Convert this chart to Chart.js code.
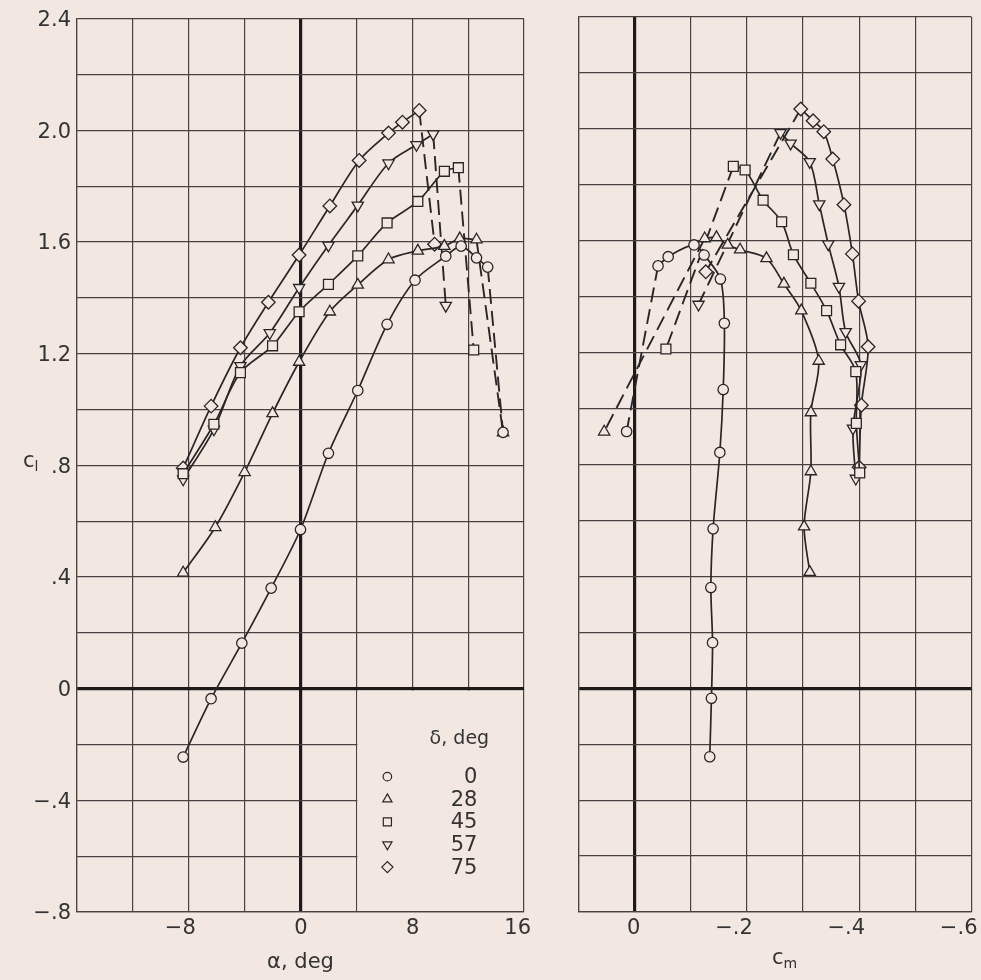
<!DOCTYPE html>
<html><head><meta charset="utf-8">
<script src="https://cdn.jsdelivr.net/npm/chart.js@4.4.0/dist/chart.umd.min.js"></script>
<style>
html,body{margin:0;padding:0;background:#f3e7e2;overflow:hidden;width:981px;height:980px;}
#wrap{position:relative;width:981px;height:980px;overflow:hidden;}
#left{position:absolute;left:0;top:0;width:560px;height:980px;}
#right{position:absolute;left:560px;top:0;width:440px;height:980px;}
.lab{position:absolute;font-family:"DejaVu Sans";font-size:21px;color:#333;line-height:1;}
.lab sub{font-size:14px;vertical-align:-4px;}
</style></head><body>
<div id="wrap">
<div id="left"><canvas id="c1"></canvas></div>
<div id="right"><canvas id="c2"></canvas></div>
<div class="lab" style="left:23px;top:450px">c<sub>l</sub></div>
<div class="lab" style="left:772px;top:947px">c<sub>m</sub></div>
</div>
<script>
// ---- data ----
const deltaLabels = ['0', '28', '45', '57', '75'];

// δ = 0 deg
const alpha0 = [-8.4, -6.4, -4.2, -2.1, 0, 2.0, 4.1, 6.2, 8.2, 10.4, 11.5, 12.6, 13.4, 14.5];
const cl0    = [-0.245, -0.036, 0.163, 0.360, 0.570, 0.843, 1.068, 1.305, 1.463, 1.549, 1.585, 1.543, 1.510, 0.918];
const cm0    = [-0.134, -0.137, -0.139, -0.136, -0.140, -0.152, -0.158, -0.160, -0.153, -0.124, -0.106, -0.060, -0.042, 0.014];
// δ = 28 deg
const alpha28 = [-8.4, -6.1, -4.0, -2.0, -0.1, 2.1, 4.1, 6.3, 8.4, 10.3, 11.4, 12.6, 14.5];
const cl28    = [0.415, 0.578, 0.775, 0.986, 1.170, 1.350, 1.446, 1.537, 1.568, 1.585, 1.612, 1.608, 0.917];
const cm28    = [-0.312, -0.302, -0.314, -0.314, -0.328, -0.297, -0.266, -0.235, -0.188, -0.166, -0.146, -0.125, 0.054];
// δ = 45 deg
const alpha45 = [-8.4, -6.2, -4.3, -2.0, -0.1, 2.0, 4.1, 6.2, 8.4, 10.3, 11.3, 12.4];
const cl45    = [0.770, 0.947, 1.132, 1.228, 1.350, 1.448, 1.550, 1.668, 1.745, 1.853, 1.866, 1.213];
const cm45    = [-0.401, -0.395, -0.394, -0.367, -0.342, -0.314, -0.283, -0.262, -0.229, -0.197, -0.176, -0.056];
// δ = 57 deg
const alpha57 = [-8.4, -6.2, -4.3, -2.2, -0.1, 2.0, 4.1, 6.3, 8.3, 9.5, 10.4];
const cl57    = [0.750, 0.929, 1.156, 1.274, 1.436, 1.588, 1.731, 1.882, 1.948, 1.986, 1.372];
const cm57    = [-0.394, -0.389, -0.403, -0.376, -0.364, -0.345, -0.329, -0.312, -0.278, -0.260, -0.114];
// δ = 75 deg
const alpha75 = [-8.4, -6.4, -4.3, -2.3, -0.1, 2.1, 4.2, 6.3, 7.3, 8.5, 9.6];
const cl75    = [0.790, 1.012, 1.221, 1.384, 1.553, 1.729, 1.892, 1.990, 2.029, 2.071, 1.592];
const cm75    = [-0.400, -0.404, -0.416, -0.399, -0.388, -0.373, -0.353, -0.337, -0.318, -0.296, -0.127];
const cl75m   = [0.790, 1.012, 1.221, 1.384, 1.553, 1.729, 1.892, 1.990, 2.029, 2.071, 1.489];

// index of the last point joined by the solid (unstalled) curve; later points joined by a dashed line
const solidEnd = [12, 11, 10, 9, 9];

// tick labels
const clTickValues = [2.4, 2.0, 1.6, 1.2, 0.8, 0.4, 0, -0.4, -0.8];
const clTickLabels = ['2.4', '2.0', '1.6', '1.2', '.8', '.4', '0', '\u2212.4', '\u2212.8'];
const alphaTickValues = [-8, 0, 8, 16];
const alphaTickLabels = ['\u22128', '0', '8', '16'];
const cmTickValues = [0, -0.2, -0.4, -0.6];
const cmTickLabels = ['0', '\u2212.2', '\u2212.4', '\u2212.6'];

// ---- styling ----
const PAPER = '#f3e7e2';
const INK = '#2b2626';
const GRID = '#4a4242';
const FONT = 'DejaVu Sans';
const markers = [
  {style: 'circle', r: 5.2, rot: 0},
  {style: 'triangle', r: 6.5, rot: 0},
  {style: 'rect', r: 7, rot: 0},
  {style: 'triangle', r: 6.5, rot: 180},
  {style: 'rectRot', r: 6.8, rot: 0}
];

function pick(values, labels) {
  return function (v) {
    for (let i = 0; i < values.length; i++) if (Math.abs(values[i] - v) < 1e-6) return labels[i];
    return '';
  };
}
function gridWidth(c) { return Math.abs(c.tick.value) < 1e-9 ? 3.2 : 1.2; }
function gridColor(c) { return Math.abs(c.tick.value) < 1e-9 ? '#1f1a1a' : GRID; }

function seriesDatasets(xs, ys, k) {
  const m = markers[k];
  const cut = solidEnd[k];
  const pts = xs.map((v, i) => ({x: v, y: ys[i]}));
  const solid = {
    label: deltaLabels[k], data: pts.slice(0, cut + 1), showLine: true, order: 1,
    borderColor: INK, borderWidth: 1.7, tension: 0.3,
    pointStyle: m.style, pointRadius: m.r, pointHoverRadius: m.r, pointRotation: m.rot,
    pointBackgroundColor: PAPER, pointBorderColor: INK, pointBorderWidth: 1.3
  };
  const tail = pts.slice(cut);
  const dashed = {
    label: deltaLabels[k] + ' stall', data: tail, showLine: true, order: 2,
    borderColor: INK, borderWidth: 1.9, borderDash: [15, 7], tension: 0,
    pointStyle: m.style, pointRadius: tail.map((p, i) => i === 0 ? 0 : m.r), pointHoverRadius: 0,
    pointRotation: m.rot, pointBackgroundColor: PAPER, pointBorderColor: INK, pointBorderWidth: 1.3
  };
  return [solid, dashed];
}

const leftSets = [
  ...seriesDatasets(alpha0, cl0, 0),
  ...seriesDatasets(alpha28, cl28, 1),
  ...seriesDatasets(alpha45, cl45, 2),
  ...seriesDatasets(alpha57, cl57, 3),
  ...seriesDatasets(alpha75, cl75, 4)
];
const rightSets = [
  ...seriesDatasets(cm0, cl0, 0),
  ...seriesDatasets(cm28, cl28, 1),
  ...seriesDatasets(cm45, cl45, 2),
  ...seriesDatasets(cm57, cl57, 3),
  ...seriesDatasets(cm75, cl75m, 4)
];

function drawMarker(ctx, m, r, x, y) {
  ctx.fillStyle = PAPER; ctx.strokeStyle = INK; ctx.lineWidth = 1.2;
  if (Chart.helpers && Chart.helpers.drawPoint) {
    Chart.helpers.drawPoint(ctx, {pointStyle: m.style, radius: r, rotation: m.rot, borderWidth: 1.2}, x, y);
  }
}

const legendBox = {
  id: 'legendBox',
  beforeDatasetsDraw(chart) {
    const {ctx} = chart;
    const xs = chart.scales.x, ys = chart.scales.y;
    const x0 = xs.getPixelForValue(4) + 1, x1 = xs.getPixelForValue(16) - 1;
    const y0 = ys.getPixelForValue(0) + 2, y1 = ys.getPixelForValue(-0.8) - 1;
    ctx.save();
    ctx.fillStyle = PAPER;
    ctx.fillRect(x0, y0, x1 - x0, y1 - y0);
    ctx.fillStyle = '#333';
    ctx.font = '19px "' + FONT + '"';
    ctx.textAlign = 'center'; ctx.textBaseline = 'middle';
    ctx.fillText('\u03b4, deg', x0 + 102, y0 + 48);
    ctx.font = '21px "' + FONT + '"';
    ctx.textAlign = 'right';
    for (let k = 0; k < deltaLabels.length; k++) {
      const yy = y0 + 86 + k * 22.6;
      ctx.fillStyle = '#333';
      ctx.fillText(deltaLabels[k], x0 + 120, yy + 1);
      const m = markers[k];
      drawMarker(ctx, m, m.r * 0.82, x0 + 30, yy);
    }
    ctx.restore();
  }
};

const tickFont = {family: FONT, size: 21};

new Chart(document.getElementById('c1'), {
  type: 'scatter',
  data: {datasets: leftSets},
  options: {
    responsive: true, maintainAspectRatio: false, animation: false,
    layout: {padding: {top: 17, right: 36, left: 0, bottom: 0}},
    plugins: {legend: {display: false}, tooltip: {enabled: false}},
    scales: {
      x: {
        type: 'linear', min: -16, max: 16,
        afterFit(s) { s.height = 68; s.paddingLeft = 0; s.paddingRight = 0; },
        ticks: {stepSize: 4, autoSkip: false, maxRotation: 0, padding: 4, color: '#333', font: tickFont,
                align: 'end', labelOffset: 7,
                callback: pick(alphaTickValues, alphaTickLabels)},
        grid: {drawTicks: false, lineWidth: gridWidth, color: gridColor},
        border: {display: true, color: GRID, width: 1.2},
        title: {display: true, text: '\u03b1, deg', color: '#333', font: {family: FONT, size: 21}, padding: {top: 0, bottom: 5}}
      },
      y: {
        type: 'linear', min: -0.8, max: 2.4,
        afterFit(s) { s.width = 77; },
        ticks: {stepSize: 0.2, autoSkip: false, padding: 6, labelOffset: 2, color: '#333', font: tickFont,
                callback: pick(clTickValues, clTickLabels)},
        grid: {drawTicks: false, lineWidth: gridWidth, color: gridColor},
        border: {display: true, color: GRID, width: 1.2}
      }
    }
  },
  plugins: [legendBox]
});

new Chart(document.getElementById('c2'), {
  type: 'scatter',
  data: {datasets: rightSets},
  options: {
    responsive: true, maintainAspectRatio: false, animation: false,
    layout: {padding: {top: 17, right: 28.5, left: 0, bottom: 0}},
    plugins: {legend: {display: false}, tooltip: {enabled: false}},
    scales: {
      x: {
        type: 'linear', min: -0.6, max: 0.1, reverse: true,
        afterFit(s) { s.height = 68; s.paddingLeft = 0; s.paddingRight = 0; },
        ticks: {stepSize: 0.1, autoSkip: false, maxRotation: 0, padding: 4, color: '#333', font: tickFont,
                align: 'end', labelOffset: 6,
                callback: pick(cmTickValues, cmTickLabels)},
        grid: {drawTicks: false, lineWidth: gridWidth, color: gridColor},
        border: {display: true, color: GRID, width: 1.2}
      },
      y: {
        type: 'linear', min: -0.8, max: 2.4,
        afterFit(s) { s.width = 18.3; },
        ticks: {stepSize: 0.2, display: false},
        grid: {drawTicks: false, lineWidth: gridWidth, color: gridColor},
        border: {display: true, color: GRID, width: 1.2}
      }
    }
  }
});
</script>
</body></html>
